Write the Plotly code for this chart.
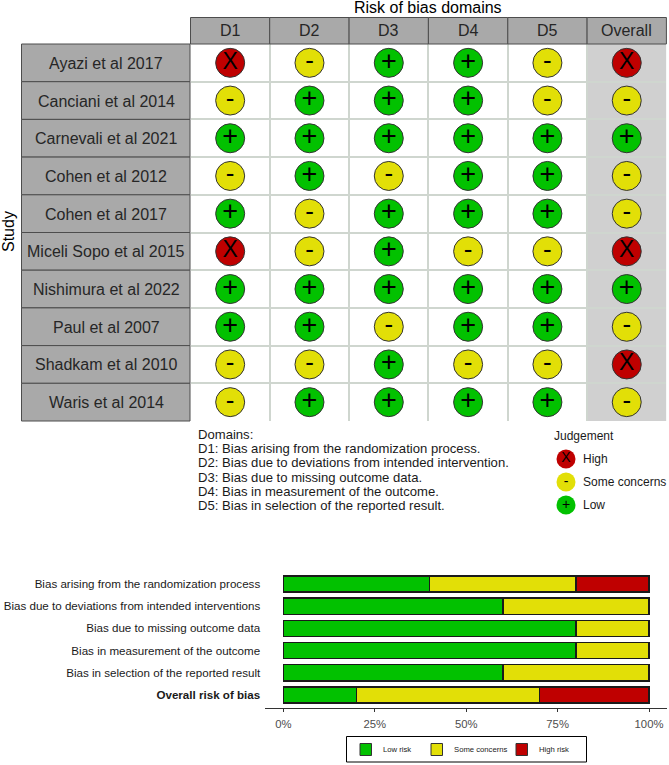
import plotly.graph_objects as go

W, H = 669, 765
FONT = "Liberation Sans"

RED = "#BF0000"
YELLOW = "#E2DF07"
GREEN = "#02C100"

studies = [
    "Ayazi et al 2017", "Canciani et al 2014", "Carnevali et al 2021",
    "Cohen et al 2012", "Cohen et al 2017", "Miceli Sopo et al 2015",
    "Nishimura et al 2022", "Paul et al 2007", "Shadkam et al 2010",
    "Waris et al 2014",
]
domains = ["D1", "D2", "D3", "D4", "D5", "Overall"]

d1 = ["X", "-", "+", "-", "+", "X", "+", "+", "-", "-"]
d2 = ["-", "+", "+", "+", "-", "-", "+", "+", "-", "+"]
d3 = ["+", "+", "+", "-", "+", "+", "+", "-", "+", "+"]
d4 = ["+", "+", "+", "+", "+", "-", "+", "+", "-", "+"]
d5 = ["-", "-", "+", "+", "+", "-", "+", "+", "-", "+"]
overall = ["X", "-", "+", "-", "-", "X", "+", "-", "X", "-"]
judgements = [d1, d2, d3, d4, d5, overall]

judgement_colors = {"X": RED, "-": YELLOW, "+": GREEN}
mark_sizes = {"X": 23, "-": 26, "+": 27}

domain_notes = [
    "Domains:",
    "D1: Bias arising from the randomization process.",
    "D2: Bias due to deviations from intended intervention.",
    "D3: Bias due to missing outcome data.",
    "D4: Bias in measurement of the outcome.",
    "D5: Bias in selection of the reported result.",
]

judgement_names = ["High", "Some concerns", "Low"]
judgement_marks = ["X", "-", "+"]

bar_labels = [
    "Bias arising from the randomization process",
    "Bias due to deviations from intended interventions",
    "Bias due to missing outcome data",
    "Bias in measurement of the outcome",
    "Bias in selection of the reported result",
    "<b>Overall risk of bias</b>",
]
low_risk = [40, 60, 80, 80, 60, 20]
some_concerns = [40, 40, 20, 20, 40, 50]
high_risk = [20, 0, 0, 0, 0, 30]
pct_ticks = [0, 25, 50, 75, 100]


def px(x):
    return x / W


def py(y):
    return 1 - y / H


fig = go.Figure()

# traffic light grid
for col, values in enumerate(judgements):
    fig.add_trace(go.Scatter(
        x=[col + 1] * len(values),
        y=list(range(1, len(values) + 1)),
        mode="markers+text",
        text=values,
        textposition="middle center",
        textfont=dict(family=FONT, size=[mark_sizes[v] for v in values], color="black"),
        marker=dict(
            size=29,
            color=[judgement_colors[v] for v in values],
            line=dict(color="#333333", width=1),
        ),
        showlegend=False,
        xaxis="x",
        yaxis="y",
    ))

# judgement legend
fig.add_trace(go.Scatter(
    x=[1, 1, 1],
    y=[1, 2, 3],
    mode="markers+text",
    text=judgement_marks,
    textposition="middle center",
    textfont=dict(family=FONT, size=14, color="black"),
    marker=dict(size=19, color=[judgement_colors[m] for m in judgement_marks]),
    showlegend=False,
    xaxis="x3",
    yaxis="y3",
))

# summary bars
for values, color in [(low_risk, GREEN), (some_concerns, YELLOW), (high_risk, RED)]:
    fig.add_trace(go.Bar(
        x=values,
        y=bar_labels,
        orientation="h",
        width=0.73,
        marker=dict(color=color, line=dict(color="#1a1a1a", width=1.5)),
        showlegend=False,
        xaxis="x2",
        yaxis="y2",
    ))

shapes = []
annotations = []


def add_text(x, y, text, size, color="#1a1a1a", anchor="center", angle=0):
    annotations.append(dict(
        x=px(x), y=py(y), xref="paper", yref="paper", text=text,
        showarrow=False, xanchor=anchor, yanchor="middle", textangle=angle,
        borderpad=0, borderwidth=0,
        font=dict(family=FONT, size=size, color=color),
    ))


# overall column background
shapes.append(dict(
    type="rect", xref="x", yref="y", x0=5.5, x1=6.5, y0=0.5, y1=10.5,
    fillcolor="#D0D0D0", line_width=0, layer="below",
))

# header and study cells
col_edges = [190.5, 269.7, 349.1, 428.4, 507.8, 587.1, 666.4]
row_top = 44
row_h = 37.7
for i, name in enumerate(domains):
    shapes.append(dict(
        type="rect", xref="paper", yref="paper",
        x0=px(col_edges[i]), x1=px(col_edges[i + 1]), y0=py(17.5), y1=py(row_top),
        fillcolor="#A9A9A9", line=dict(color="#4d4d4d", width=1),
    ))
    add_text((col_edges[i] + col_edges[i + 1]) / 2, 31, name, 16, "#262626")
for i, name in enumerate(studies):
    top = row_top + i * row_h
    shapes.append(dict(
        type="rect", xref="paper", yref="paper",
        x0=px(21.5), x1=px(190), y0=py(top), y1=py(top + row_h),
        fillcolor="#A9A9A9", line=dict(color="#4d4d4d", width=1),
    ))
    add_text(106, top + row_h / 2 + 0.5, name, 16, "#262626")

add_text(428, 7.5, "Risk of bias domains", 16, "black")
add_text(8, 232, "Study", 16, "black", angle=-90)

for i, line in enumerate(domain_notes):
    add_text(198, 434 + i * 14.35, line, 13.1, anchor="left")

add_text(554, 436, "Judgement", 12, anchor="left")
for i, name in enumerate(judgement_names):
    add_text(583, 459 + i * 23, name, 12, anchor="left")

# summary legend
shapes.append(dict(
    type="rect", xref="paper", yref="paper",
    x0=px(346.5), x1=px(586.5), y0=py(736.5), y1=py(762),
    fillcolor="white", line=dict(color="black", width=1),
))
for x0, name, color, text_x in [
    (360, "Low risk", GREEN, 382.5),
    (431, "Some concerns", YELLOW, 453.5),
    (516, "High risk", RED, 538.5),
]:
    shapes.append(dict(
        type="rect", xref="paper", yref="paper",
        x0=px(x0), x1=px(x0 + 11.5), y0=py(743.5), y1=py(755.5),
        fillcolor=color, line=dict(color="#333333", width=1),
    ))
    add_text(text_x, 749.5, name, 7.7, anchor="left")

fig.update_layout(
    width=W,
    height=H,
    margin=dict(l=0, r=0, t=0, b=0),
    autosize=False,
    paper_bgcolor="white",
    plot_bgcolor="white",
    barmode="stack",
    bargap=0.27,
    font=dict(family=FONT),
    shapes=shapes,
    annotations=annotations,
    xaxis=dict(
        domain=[px(190.5), px(666.4)], range=[0.5, 6.5], anchor="y",
        tickvals=[1.5, 2.5, 3.5, 4.5, 5.5], showticklabels=False, ticks="",
        showgrid=True, gridcolor="#CFD6CF", gridwidth=1.5, zeroline=False,
        fixedrange=True,
    ),
    yaxis=dict(
        domain=[py(421), py(44)], range=[10.5, 0.5], anchor="x",
        tickvals=[1.5, 2.5, 3.5, 4.5, 5.5, 6.5, 7.5, 8.5, 9.5, 10.5],
        showticklabels=False, ticks="",
        showgrid=True, gridcolor="#CFD6CF", gridwidth=1.5, zeroline=False,
        fixedrange=True,
    ),
    xaxis2=dict(
        domain=[px(265.2), px(667.3)], range=[-5, 105], anchor="y2",
        tickvals=pct_ticks, ticktext=[f"{t}%" for t in pct_ticks],
        ticks="outside", ticklen=3, tickwidth=1, tickcolor="#333333",
        ticklabelstandoff=2,
        tickfont=dict(family=FONT, size=11.3, color="#4d4d4d"),
        showline=True, linecolor="#333333", linewidth=1,
        showgrid=False, zeroline=False, fixedrange=True,
    ),
    yaxis2=dict(
        domain=[py(708), py(571)], range=[5.59, -0.59], anchor="x2",
        type="category", categoryorder="array", categoryarray=bar_labels,
        tickfont=dict(family=FONT, size=11.6, color="#1a1a1a"),
        ticks="", ticklen=0, ticklabelstandoff=4,
        showline=False, showgrid=False, zeroline=False,
        fixedrange=True,
    ),
    xaxis3=dict(
        domain=[px(554), px(578)], range=[0.5, 1.5], anchor="y3", visible=False,
        fixedrange=True,
    ),
    yaxis3=dict(
        domain=[py(517), py(447)], range=[3.52, 0.48], anchor="x3", visible=False,
        fixedrange=True,
    ),
)

# page margin would push the 669 wide figure off the window
fig.write_html(
    "out.html",
    config={"displayModeBar": False},
    post_script="document.body.style.margin = '0';",
)
